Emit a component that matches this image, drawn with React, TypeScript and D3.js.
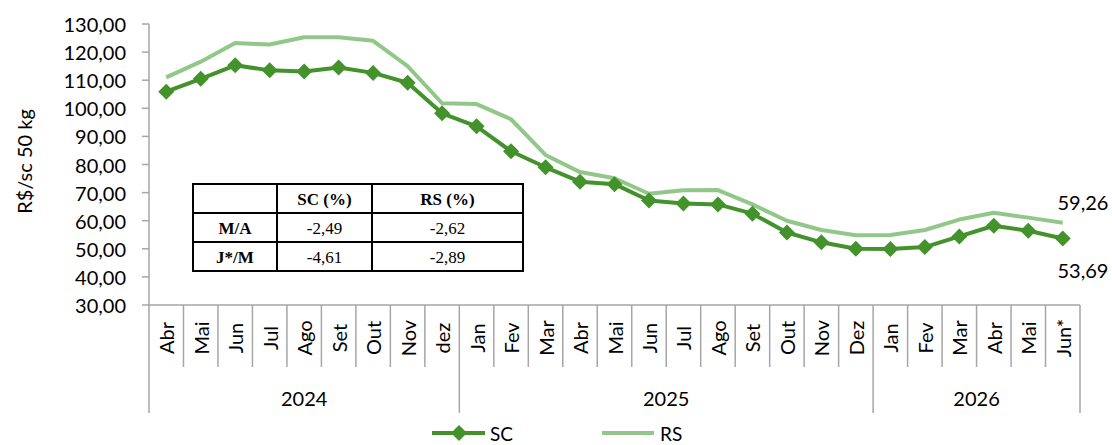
import React from "react";
import * as d3 from "d3";

const months = ["Abr","Mai","Jun","Jul","Ago","Set","Out","Nov","dez","Jan","Fev","Mar","Abr","Mai","Jun","Jul","Ago","Set","Out","Nov","Dez","Jan","Fev","Mar","Abr","Mai","Jun*"];
const years = [
  { label: "2024", start: 0, end: 9 },
  { label: "2025", start: 9, end: 21 },
  { label: "2026", start: 21, end: 27 },
];
const scValues = [105.9,110.5,115.3,113.5,113.1,114.5,112.6,109.1,98.2,93.6,84.7,79.0,73.9,73.0,67.2,66.1,65.8,62.5,55.8,52.3,50.0,49.9,50.6,54.4,58.2,56.4,53.69];
const rsValues = [111.0,116.6,123.2,122.7,125.3,125.3,124.0,115.0,101.8,101.5,96.1,83.4,77.3,75.1,69.6,70.8,70.9,65.8,60.0,56.7,54.8,54.9,56.7,60.4,62.8,61.1,59.26];
const yTicks = [30,40,50,60,70,80,90,100,110,120,130];
const tableHeader = ["", "SC (%)", "RS (%)"];
const tableRows = [
  ["M/A", "-2,49", "-2,62"],
  ["J*/M", "-4,61", "-2,89"],
];

const SC_COLOR = "#43922B";
const RS_COLOR = "#92C78A";
const AXIS_COLOR = "#A6A6A6";
const FONT = "Lato, 'Open Sans', sans-serif";

export default function App() {
  const W = 1112, H = 445;
  const x0 = 149, x1 = 1080, yTop = 24, yBot = 305;
  const idx = months.map((_, i) => i);
  const xBand = d3.scaleBand<number>().domain(idx).range([x0, x1]).padding(0);
  const bw = xBand.bandwidth();
  const xc = (i: number) => (xBand(i) as number) + bw / 2;
  const y = d3.scaleLinear().domain([30, 130]).range([yBot, yTop]);
  const fmt = (v: number) => v.toFixed(2).replace(".", ",");

  const line = d3.line<number>().x((_, i) => xc(i)).y((d) => y(d));
  const diamondPath = "M0,-8L8,0L0,8L-8,0Z";

  const tX = [193, 277, 372, 523];
  const tY = [184, 213, 242, 271];

  const boundaryX = (k: number) => x0 + k * bw;

  return (
    <svg width={W} height={H} style={{ position: "absolute", left: 0, top: 0, background: "#fff" }} fontFamily={FONT}>
      {/* Y axis */}
      <line x1={x0} x2={x0} y1={yTop} y2={yBot} stroke={AXIS_COLOR} strokeWidth={1.5} />
      {yTicks.map((t) => (
        <g key={t}>
          <line x1={x0 - 7} x2={x0} y1={y(t)} y2={y(t)} stroke={AXIS_COLOR} strokeWidth={1.5} />
          <text x={126} y={y(t)} textAnchor="end" dominantBaseline="central" fontSize={20} fill="#000">{fmt(t)}</text>
        </g>
      ))}
      <text transform={`translate(24,${(yTop + yBot) / 2 - 3}) rotate(-90)`} textAnchor="middle" dominantBaseline="central" fontSize={20} fill="#000">R$/sc 50 kg</text>

      {/* X axis */}
      <line x1={x0} x2={x1} y1={yBot} y2={yBot} stroke={AXIS_COLOR} strokeWidth={1.5} />
      {d3.range(0, months.length + 1).map((k) => {
        const isYear = years.some((yr) => yr.start === k) || k === months.length;
        return (
          <line key={k} x1={boundaryX(k)} x2={boundaryX(k)} y1={yBot} y2={isYear ? 413 : 367} stroke={AXIS_COLOR} strokeWidth={1.5} />
        );
      })}
      {months.map((m, i) => (
        <text key={i} transform={`translate(${xc(i)},338) rotate(-90)`} textAnchor="middle" dominantBaseline="central" fontSize={20} fill="#000">{m}</text>
      ))}
      {years.map((yr) => (
        <text key={yr.label} x={(boundaryX(yr.start) + boundaryX(yr.end)) / 2} y={398} textAnchor="middle" dominantBaseline="central" fontSize={20} fill="#000">{yr.label}</text>
      ))}

      {/* Lines */}
      <path d={line(rsValues) as string} fill="none" stroke={RS_COLOR} strokeWidth={4} strokeLinejoin="round" />
      <path d={line(scValues) as string} fill="none" stroke={SC_COLOR} strokeWidth={4} strokeLinejoin="round" />
      {scValues.map((v, i) => (
        <path key={i} d={diamondPath} transform={`translate(${xc(i)},${y(v)})`} fill={SC_COLOR} />
      ))}

      {/* End labels */}
      <text x={1083} y={202} textAnchor="middle" dominantBaseline="central" fontSize={20} fill="#000">{fmt(rsValues[rsValues.length - 1])}</text>
      <text x={1083} y={270} textAnchor="middle" dominantBaseline="central" fontSize={20} fill="#000">{fmt(scValues[scValues.length - 1])}</text>

      {/* Table */}
      <g fontFamily="'Liberation Serif', 'Times New Roman', serif" fontSize={17}>
        <rect x={tX[0]} y={tY[0]} width={tX[3] - tX[0]} height={tY[3] - tY[0]} fill="#fff" stroke="#000" strokeWidth={2} />
        {tY.slice(1, 3).map((yy) => (
          <line key={yy} x1={tX[0]} x2={tX[3]} y1={yy} y2={yy} stroke="#000" strokeWidth={2} />
        ))}
        {tX.slice(1, 3).map((xx) => (
          <line key={xx} x1={xx} x2={xx} y1={tY[0]} y2={tY[3]} stroke="#000" strokeWidth={2} />
        ))}
        {tableHeader.map((h, c) => (
          <text key={c} x={(tX[c] + tX[c + 1]) / 2} y={(tY[0] + tY[1]) / 2 + 1} textAnchor="middle" dominantBaseline="central" fontWeight="bold">{h}</text>
        ))}
        {tableRows.map((row, r) =>
          row.map((cell, c) => (
            <text key={`${r}-${c}`} x={(tX[c] + tX[c + 1]) / 2} y={(tY[r + 1] + tY[r + 2]) / 2 + 1} textAnchor="middle" dominantBaseline="central" fontWeight={c === 0 ? "bold" : "normal"}>{cell}</text>
          ))
        )}
      </g>

      {/* Legend */}
      <line x1={432} x2={485} y1={433} y2={433} stroke={SC_COLOR} strokeWidth={4} />
      <path d={diamondPath} transform="translate(459,433)" fill={SC_COLOR} />
      <text x={490} y={433} dominantBaseline="central" fontSize={19} fill="#000">SC</text>
      <line x1={602} x2={654} y1={433} y2={433} stroke={RS_COLOR} strokeWidth={4} />
      <text x={660} y={433} dominantBaseline="central" fontSize={19} fill="#000">RS</text>
    </svg>
  );
}
